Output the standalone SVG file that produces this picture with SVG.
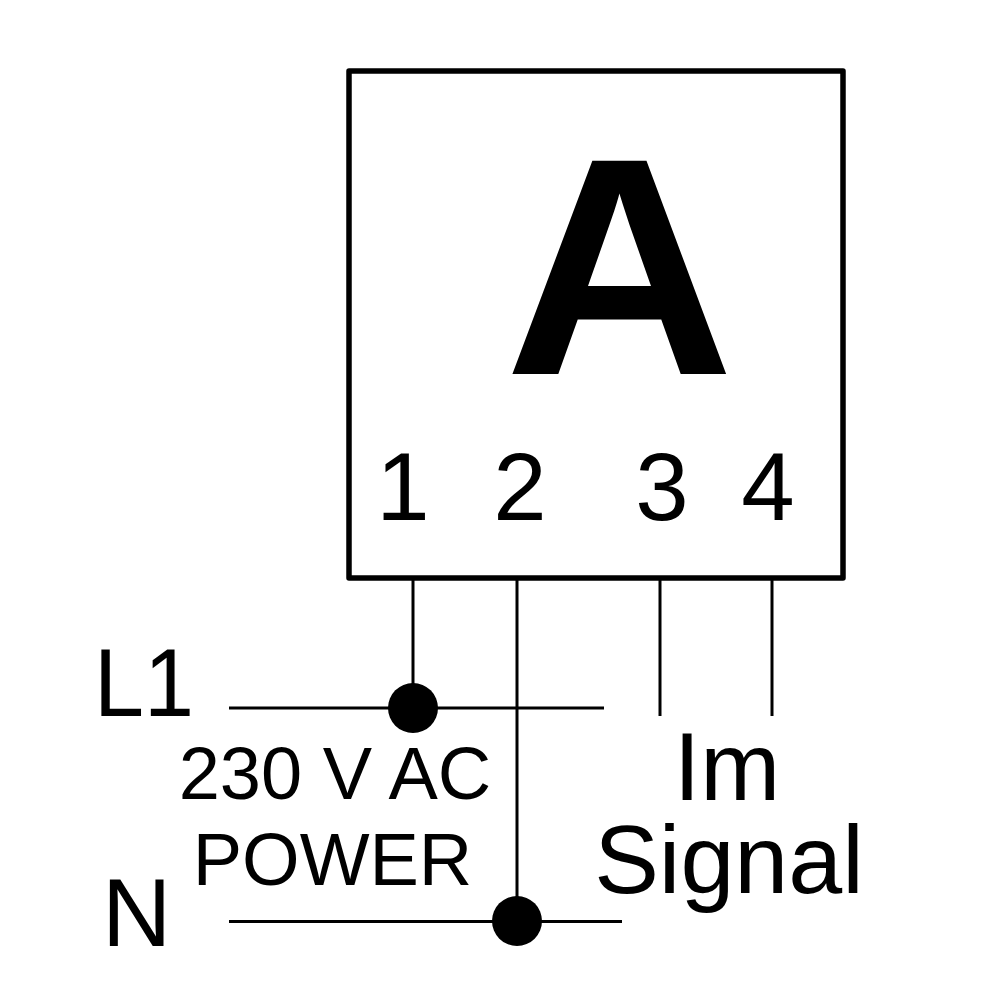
<svg xmlns="http://www.w3.org/2000/svg" width="1000" height="1000" viewBox="0 0 1000 1000">
<style>
.t{font-family:"Liberation Sans",Arial,sans-serif;fill:#000}
.w{stroke:#000;fill:none;stroke-width:3}
</style>
<rect width="1000" height="1000" fill="#fff"/>
<g id="connectors">
<line class="w" x1="413" y1="578" x2="413" y2="708"/>
<line class="w" x1="517" y1="578" x2="517" y2="921"/>
<line class="w" x1="660" y1="578" x2="660" y2="716"/>
<line class="w" x1="772" y1="578" x2="772" y2="716"/>
<line class="w" x1="229" y1="708" x2="604" y2="708"/>
<line class="w" x1="229" y1="921.500" x2="622" y2="921.500"/>
</g>
<g id="meter">
<rect x="349" y="71" width="494" height="507" fill="#fff" stroke="#000" stroke-width="5.500" stroke-linejoin="round"/>
<text class="t" x="504.500" y="374" font-size="310" font-weight="bold" textLength="230" lengthAdjust="spacingAndGlyphs">A</text>
<text class="t" x="403" y="520" font-size="96" text-anchor="middle">1</text>
<text class="t" x="520" y="520" font-size="96" text-anchor="middle">2</text>
<text class="t" x="662" y="520" font-size="96" text-anchor="middle">3</text>
<text class="t" x="768" y="520" font-size="96" text-anchor="middle">4</text>
</g>
<g id="junction-l1"><circle cx="413" cy="708" r="25" fill="#000"/></g>
<g id="junction-n"><circle cx="517" cy="921" r="25" fill="#000"/></g>
<g id="labels">
<text class="t" x="94" y="716" font-size="96" textLength="100" lengthAdjust="spacingAndGlyphs">L1</text>
<text class="t" x="102" y="946" font-size="96">N</text>
<text class="t" x="335" y="799" font-size="74" text-anchor="middle">230 V AC</text>
<text class="t" x="332.500" y="885" font-size="74" text-anchor="middle">POWER</text>
<text class="t" x="727" y="800" font-size="96" text-anchor="middle">Im</text>
<text class="t" x="729" y="893" font-size="97" text-anchor="middle">Signal</text>
</g>
</svg>
